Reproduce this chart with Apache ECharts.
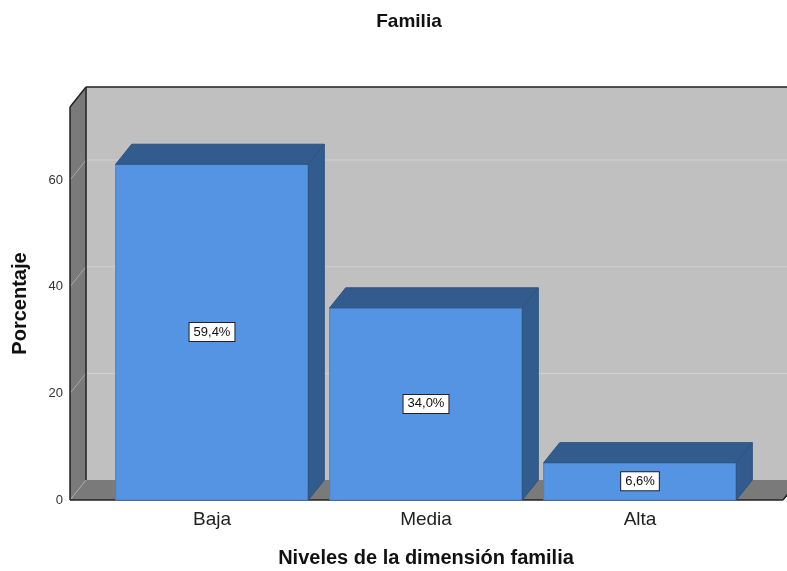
<!DOCTYPE html>
<html>
<head>
<meta charset="utf-8">
<script src="https://cdn.jsdelivr.net/npm/echarts@6/dist/echarts.min.js"></script>
<style>
  html, body { margin: 0; padding: 0; background: #fff; }
  #chart { width: 787px; height: 571px; }
</style>
</head>
<body>
<div id="chart"></div>
<script>
// data
const categories = ['Baja', 'Media', 'Alta'];
const values = [59.4, 34.0, 6.6];
const yTicks = [20, 40, 60];

// 3d look
const DX = 16, DY = 20;
const PAD_L = 35, PAD_R = 36;
const BAR_SCALE = 1.06;
const FONT = 'Liberation Sans, Arial, sans-serif';

const myChart = echarts.init(document.getElementById('chart'));

const renderWalls = (params, api) => {
  const cs = params.coordSys;
  const x0 = cs.x - PAD_L;
  const x1 = cs.x + cs.width + PAD_R;
  const yt = cs.y;
  const yb = cs.y + cs.height;
  const children = [];
  // back wall
  children.push({ type: 'rect', shape: { x: x0 + DX, y: yt - DY, width: x1 - x0 + 40, height: cs.height },
    style: { fill: '#c0c0c0' } });
  // side wall
  children.push({ type: 'polygon', shape: { points: [[x0, yt], [x0 + DX, yt - DY], [x0 + DX, yb - DY], [x0, yb]] },
    style: { fill: '#7a7a7a' } });
  // floor
  children.push({ type: 'polygon', shape: { points: [[x0, yb], [x1, yb], [x1 + DX, yb - DY], [x0 + DX, yb - DY]] },
    style: { fill: '#7a7a7a' } });
  // grid lines
  yTicks.forEach(t => {
    const y = api.coord([0, t])[1];
    children.push({ type: 'line', shape: { x1: x0, y1: y, x2: x0 + DX, y2: y - DY },
      style: { stroke: '#a8a8a8', lineWidth: 1 } });
    children.push({ type: 'line', shape: { x1: x0 + DX, y1: y - DY, x2: x1 + 60, y2: y - DY },
      style: { stroke: '#d2d2d2', lineWidth: 1 } });
  });
  children.push({ type: 'line', shape: { x1: x0, y1: yb, x2: x0 + DX, y2: yb - DY },
    style: { stroke: '#a8a8a8', lineWidth: 1 } });
  // edges
  const edge = { stroke: '#222', lineWidth: 1.5 };
  children.push({ type: 'line', shape: { x1: x0, y1: yt, x2: x0, y2: yb }, style: edge });
  children.push({ type: 'line', shape: { x1: x0 + DX, y1: yt - DY, x2: x0 + DX, y2: yb - DY }, style: edge });
  children.push({ type: 'line', shape: { x1: x0, y1: yt, x2: x0 + DX, y2: yt - DY }, style: edge });
  children.push({ type: 'line', shape: { x1: x0 + DX, y1: yt - DY, x2: x1 + 60, y2: yt - DY }, style: edge });
  children.push({ type: 'line', shape: { x1: x0, y1: yb, x2: x1, y2: yb }, style: edge });
  children.push({ type: 'line', shape: { x1: x1, y1: yb, x2: x1 + DX, y2: yb - DY }, style: edge });
  return { type: 'group', children: children };
};

const renderBars = (params, api) => {
  const top = api.coord([api.value(0), api.value(1)]);
  const base = api.coord([api.value(0), 0]);
  const w = api.size([1, 0])[0] * 0.9;
  const xl = top[0] - w / 2, xr = top[0] + w / 2;
  const yb = base[1];
  const yt = yb - (yb - top[1]) * BAR_SCALE;
  const dark = '#335c8e';
  const label = api.value(1).toFixed(1).replace('.', ',') + '%';
  return {
    type: 'group',
    children: [
      { type: 'rect', shape: { x: xl, y: yt, width: w, height: yb - yt },
        style: { fill: '#5494e3', stroke: '#4a80c4', lineWidth: 1 } },
      { type: 'polygon', shape: { points: [[xl, yt], [xr, yt], [xr + DX, yt - DY], [xl + DX, yt - DY]] },
        style: { fill: dark, stroke: '#2d5280', lineWidth: 1 } },
      { type: 'polygon', shape: { points: [[xr, yb], [xr, yt], [xr + DX, yt - DY], [xr + DX, yb - DY]] },
        style: { fill: dark, stroke: '#2d5280', lineWidth: 1 } },
      { type: 'text', x: top[0], y: (yt + yb) / 2,
        style: { text: label, align: 'center', verticalAlign: 'middle',
          font: '13px ' + FONT, fill: '#111',
          backgroundColor: '#fff', borderColor: '#222', borderWidth: 1, padding: [3, 4, 2, 4] } }
    ]
  };
};

const option = {
  animation: false,
  title: {
    text: 'Familia',
    left: 404,
    textAlign: 'center',
    top: 7,
    textStyle: { fontSize: 19, fontWeight: 'bold', color: '#111', fontFamily: FONT }
  },
  grid: { left: 105, right: 40, top: 107, bottom: 71, outerBoundsMode: 'none' },
  xAxis: {
    type: 'category',
    data: categories,
    axisLine: { show: false },
    axisTick: { show: false },
    axisLabel: { fontSize: 19, color: '#222', margin: 10, fontFamily: FONT },
    name: 'Niveles de la dimensión familia',
    nameLocation: 'middle',
    nameGap: 48,
    nameTextStyle: { fontSize: 20, fontWeight: 'bold', color: '#111', fontFamily: FONT }
  },
  yAxis: {
    type: 'value',
    min: 0,
    max: 73.7,
    interval: 20,
    offset: PAD_L,
    axisLine: { show: false },
    axisTick: { show: false },
    splitLine: { show: false },
    axisLabel: { fontSize: 13, color: '#333', margin: 7, showMaxLabel: false, fontFamily: FONT },
    name: 'Porcentaje',
    nameLocation: 'middle',
    nameGap: 40,
    nameTextStyle: { fontSize: 20, fontWeight: 'bold', color: '#111', fontFamily: FONT }
  },
  series: [
    { type: 'custom', renderItem: renderWalls, data: [[0, 0]], silent: true, z: 1 },
    { type: 'custom', renderItem: renderBars, data: values.map((v, i) => [i, v]), z: 2 }
  ]
};

myChart.setOption(option);
</script>
</body>
</html>
